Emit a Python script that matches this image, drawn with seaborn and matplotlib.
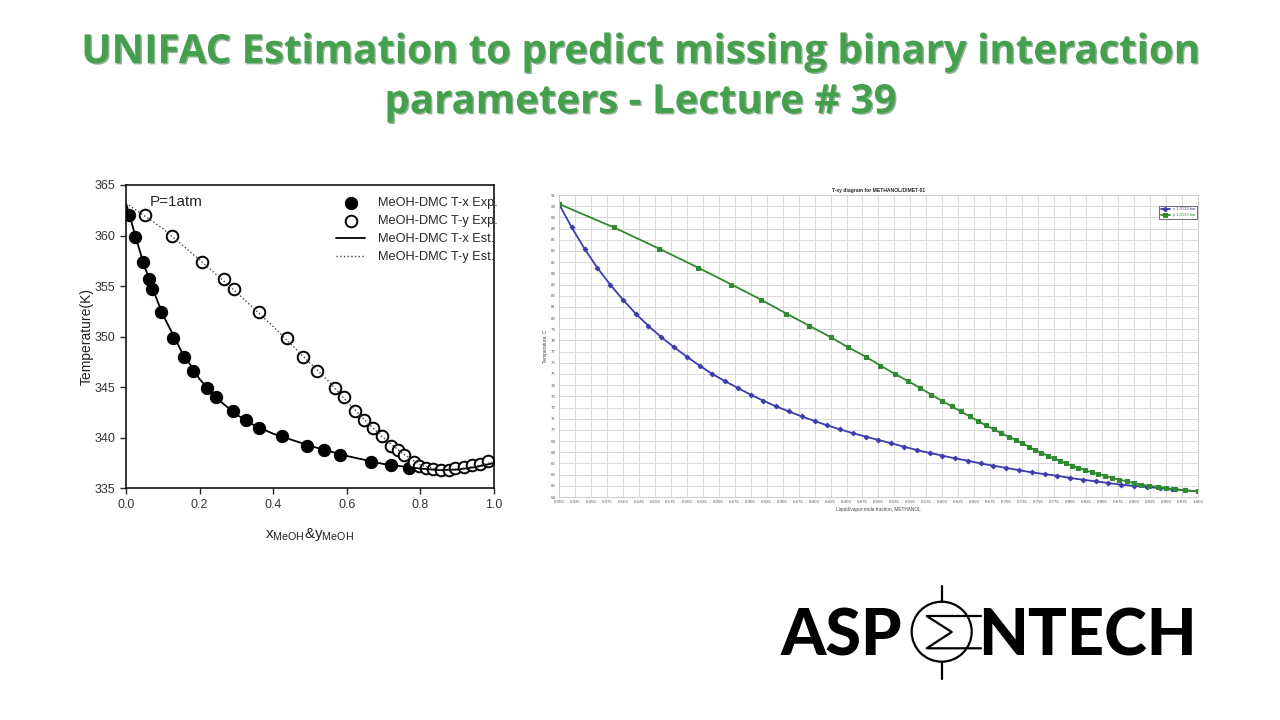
import matplotlib
matplotlib.use("Agg")
import numpy as np
import matplotlib.pyplot as plt
import matplotlib.patheffects as pe
from matplotlib.patches import Circle
import seaborn as sns

sns.set_style("white")
plt.rcParams['font.family'] = ['Liberation Sans', 'DejaVu Sans']
plt.rcParams['mathtext.default'] = 'regular'

### Left chart: MeOH-DMC at P = 1 atm (K)
x_exp = [0.009, 0.025, 0.045, 0.062, 0.070, 0.094, 0.129, 0.158, 0.183, 0.219, 0.246,
         0.290, 0.325, 0.362, 0.424, 0.491, 0.539, 0.582, 0.665, 0.719, 0.769]
T_x_exp = [362.0, 359.9, 357.4, 355.7, 354.7, 352.4, 349.9, 348.0, 346.6, 344.9, 344.0,
           342.6, 341.8, 341.0, 340.2, 339.2, 338.8, 338.3, 337.6, 337.3, 337.0]
y_exp = [0.052, 0.126, 0.206, 0.266, 0.293, 0.361, 0.437, 0.482, 0.519, 0.568, 0.592,
         0.622, 0.647, 0.670, 0.697, 0.721, 0.739, 0.755, 0.782, 0.796, 0.814, 0.834,
         0.857, 0.877, 0.895, 0.918, 0.941, 0.963, 0.985]
T_y_exp = [362.0, 360.0, 357.4, 355.7, 354.7, 352.4, 349.9, 348.0, 346.6, 344.9, 344.0,
           342.6, 341.8, 341.0, 340.2, 339.2, 338.8, 338.3, 337.6, 337.2, 337.0, 336.9,
           336.8, 336.8, 337.0, 337.1, 337.3, 337.4, 337.7]
x_est = [0.0, 0.01, 0.025, 0.05, 0.075, 0.1, 0.15, 0.2, 0.25, 0.3, 0.35, 0.4, 0.5,
         0.6, 0.7, 0.8, 0.85, 0.9, 0.95, 1.0]
T_x_est = [363.2, 362.0, 360.0, 357.0, 354.5, 352.2, 348.6, 345.8, 343.8, 342.3, 341.2,
           340.4, 339.2, 338.2, 337.4, 336.95, 336.8, 336.85, 337.1, 337.5]
y_est = [0.0, 0.1, 0.2, 0.3, 0.4, 0.5, 0.55, 0.6, 0.65, 0.7, 0.75, 0.8, 0.85, 0.9, 0.95, 1.0]
T_y_est = [363.2, 360.7, 357.6, 354.4, 351.0, 347.4, 345.6, 343.6, 341.7, 340.0, 338.5,
           337.3, 336.85, 336.9, 337.2, 337.6]

### Right chart: Aspen T-xy, METHANOL/DIMET-01 (C)
x_liq = [0.00, 0.02, 0.04, 0.06, 0.08, 0.10, 0.12, 0.14, 0.16, 0.18, 0.20, 0.22, 0.24,
         0.26, 0.28, 0.30, 0.32, 0.34, 0.36, 0.38, 0.40, 0.42, 0.44, 0.46, 0.48, 0.50,
         0.52, 0.54, 0.56, 0.58, 0.60, 0.62, 0.64, 0.66, 0.68, 0.70, 0.72, 0.74, 0.76,
         0.78, 0.80, 0.82, 0.84, 0.86, 0.88, 0.90, 0.92, 0.94, 0.96, 0.98, 1.00]
T_sat = [90.2, 88.1, 86.2, 84.5, 83.0, 81.65, 80.4, 79.3, 78.3, 77.4, 76.55, 75.75, 75.0,
         74.35, 73.75, 73.15, 72.6, 72.1, 71.65, 71.2, 70.8, 70.4, 70.05, 69.7, 69.4, 69.1,
         68.8, 68.5, 68.2, 67.95, 67.7, 67.45, 67.25, 67.0, 66.8, 66.6, 66.4, 66.2, 66.05,
         65.9, 65.7, 65.55, 65.4, 65.25, 65.1, 65.0, 64.9, 64.8, 64.7, 64.6, 64.5]
y_vap = [0.0, 0.086, 0.157, 0.218, 0.270, 0.316, 0.356, 0.392, 0.425, 0.452, 0.480, 0.503,
         0.526, 0.547, 0.565, 0.583, 0.599, 0.615, 0.629, 0.643, 0.656, 0.668, 0.681, 0.692,
         0.704, 0.715, 0.725, 0.735, 0.745, 0.755, 0.765, 0.774, 0.784, 0.793, 0.803, 0.813,
         0.823, 0.834, 0.844, 0.855, 0.865, 0.877, 0.889, 0.900, 0.911, 0.924, 0.937, 0.950,
         0.964, 0.980, 1.0]

fig = plt.figure(figsize=(12.8, 7.2), dpi=100)
fig.patch.set_facecolor("white")

# Title
green = "#44a04c"
shadow = [pe.SimplePatchShadow(offset=(1.0, -1.0), shadow_rgbFace="#23552a", alpha=0.45), pe.Normal()]
for txt, yb in [("UNIFAC Estimation to predict missing binary interaction", 63),
                ("parameters - Lecture # 39", 113)]:
    fig.text(0.5, 1 - yb / 720, txt, ha="center", va="baseline", fontsize=28.9,
             fontweight="bold", family=["Open Sans", "DejaVu Sans"], color=green,
             path_effects=shadow)

### Left chart
ax1 = fig.add_axes([0.0984, 0.3218, 0.2875, 0.4213])
sns.scatterplot(x=x_exp, y=T_x_exp, ax=ax1, s=74, color="black", edgecolor="black",
                linewidth=1.0, label="MeOH-DMC T-x Exp.", zorder=2)
sns.scatterplot(x=y_exp, y=T_y_exp, ax=ax1, s=70, color="white", edgecolor="black",
                linewidth=1.4, label="MeOH-DMC T-y Exp.", zorder=2)
sns.lineplot(x=x_est, y=T_x_est, ax=ax1, color="black", lw=1.3,
             label="MeOH-DMC T-x Est.", zorder=3)
sns.lineplot(x=y_est, y=T_y_est, ax=ax1, color="#444444", lw=1.0, ls=":",
             label="MeOH-DMC T-y Est.", zorder=3)
ax1.set_xlim(0, 1)
ax1.set_ylim(335, 365)
ax1.set_xticks([0.0, 0.2, 0.4, 0.6, 0.8, 1.0])
ax1.set_yticks([335, 340, 345, 350, 355, 360, 365])
ax1.tick_params(axis="both", direction="out", length=4, width=1, labelsize=9,
                labelcolor="#333333", bottom=True, left=True)
for s in ax1.spines.values():
    s.set_color("black")
    s.set_linewidth(1.1)
ax1.set_xlabel(r"x$_{MeOH}$&y$_{MeOH}$", fontsize=11, labelpad=11, color="#222222")
ax1.set_ylabel("Temperature(K)", fontsize=10, labelpad=1, color="#222222")
ax1.text(0.065, 0.944, "P=1atm", transform=ax1.transAxes, fontsize=11, va="center")
ax1.legend(loc="upper right", bbox_to_anchor=(1.035, 0.99), frameon=False, fontsize=9.2,
           handlelength=2.3, labelspacing=0.48, borderaxespad=0.3, handletextpad=1.0)

### Right chart
blue = "#3c3cae"
dgreen = "#2e8a2e"
ax2 = fig.add_axes([0.4367, 0.3097, 0.4992, 0.4194])
sns.lineplot(x=x_liq, y=T_sat, ax=ax2, color=blue, lw=1.3, marker="D", markersize=2.4,
             markeredgecolor=blue, label="x 1.0133 bar")
sns.lineplot(x=y_vap, y=T_sat, ax=ax2, color=dgreen, lw=1.3, marker="s", markersize=2.6,
             markeredgecolor=dgreen, label="y 1.0133 bar")
ax2.set_xlim(0, 1)
ax2.set_ylim(64, 91)
xt = np.arange(0, 1.0001, 0.025)
ax2.set_xticks(xt)
ax2.set_xticklabels([f"{v:.3f}" for v in xt])
ax2.set_yticks(range(64, 92))
ax2.grid(True, color="#d9d9d9", lw=0.7)
ax2.tick_params(axis="both", length=0, pad=2.5, labelsize=3.2, labelcolor="#555555")
for s in ax2.spines.values():
    s.set_color("#cccccc")
    s.set_linewidth(0.7)
ax2.set_title("T-xy diagram for METHANOL/DIMET-01", fontsize=3.6, fontweight="bold", pad=2.5)
ax2.set_xlabel("Liquid/vapor mole fraction, METHANOL", fontsize=3.4, labelpad=2, color="#444444")
ax2.set_ylabel("Temperature, C", fontsize=3.4, labelpad=2, color="#444444")
leg = ax2.legend(loc="upper right", bbox_to_anchor=(0.999, 0.965), fontsize=3.0,
                 fancybox=False, edgecolor="#555555", borderaxespad=0, handlelength=2.2,
                 framealpha=1)
leg.get_frame().set_linewidth(0.6)
for t, c in zip(leg.get_texts(), [blue, dgreen]):
    t.set_color(c)

### Logo
ax0 = fig.add_axes([0, 0, 1, 1])
ax0.set_xlim(0, 1280)
ax0.set_ylim(720, 0)
ax0.axis("off")
ax0.text(781, 655, "ASP", fontsize=46.5, fontweight="black", family=["Lato", "DejaVu Sans"],
         ha="left", va="baseline", color="black")
ax0.text(978, 655, "NTECH", fontsize=46.5, fontweight="black", family=["Lato", "DejaVu Sans"],
         ha="left", va="baseline", color="black")
ax0.add_patch(Circle((941.7, 631.7), 30, fill=False, lw=1.6, color="black"))
ax0.plot([941.7, 941.7], [586, 601.7], color="black", lw=1.6)
ax0.plot([941.7, 941.7], [661.7, 679.3], color="black", lw=1.6)
ax0.plot([981, 926.7, 951.7, 926.7, 981], [616, 616, 632, 648.3, 648.3],
         color="black", lw=1.6)

fig.savefig("out.png", dpi=100)
